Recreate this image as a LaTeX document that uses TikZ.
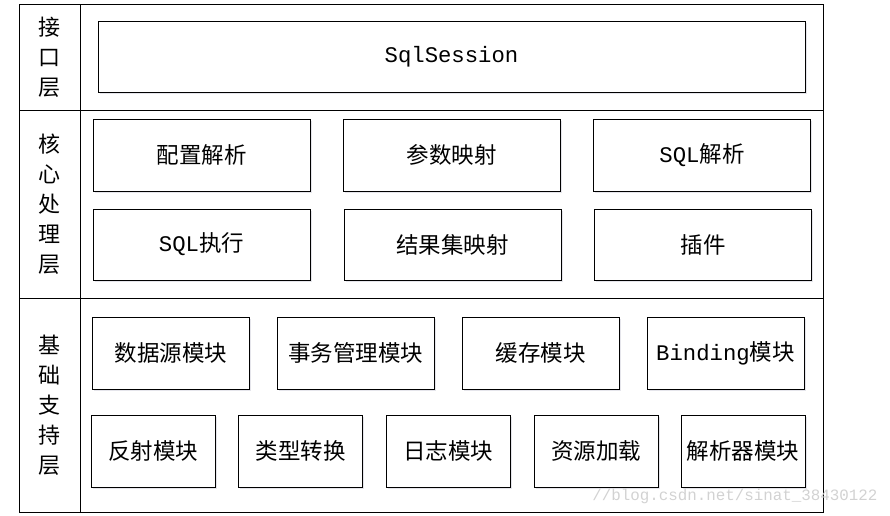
\documentclass[tikz,border=0pt]{standalone}
\usepackage{fontspec}
\setmainfont{Noto Sans CJK SC}
\setmonofont[Scale=0.99]{Liberation Mono}
\usetikzlibrary{shadows}
\tikzset{
    modbox/.style={draw, line width=1pt, fill=white, minimum height=72pt, inner sep=0pt,
        font=\fontsize{22.5}{24}\selectfont,
        drop shadow={shadow xshift=1.5pt, shadow yshift=-1.5pt, fill=blue!15!gray!30, opacity=.6}},
    layer/.style={align=center, inner sep=0pt, font=\fontsize{22}{30}\selectfont},
}
\begin{document}
\begin{tikzpicture}[x=1pt, y=-1pt, line width=1pt]
\useasboundingbox (0,0) rectangle (890,515);
\draw (19,4) rectangle (823,512);
\draw (80,4)--(80,512);
\draw (19,110)--(823,110);
\draw (19,298)--(823,298);

\node[layer] (interface) at (49.5,57) {接\\口\\层};
\node[layer] (core) at (49.5,204) {核\\心\\处\\理\\层};
\node[layer] (base) at (49.5,405) {基\\础\\支\\持\\层};

\node[modbox, minimum width=707pt, minimum height=71pt] (session) at (451.5,56.5) {\texttt{SqlSession}};

\foreach \cx/\name/\txt in {201.5/config/配置解析, 451.5/param/参数映射, 702/sqlparse/{\texttt{SQL}解析}}
{
    \node[modbox, minimum width=217pt] (\name) at (\cx,155) {\txt};
}
\foreach \cx/\name/\txt in {201.5/executor/{\texttt{SQL}执行}, 452.5/result/结果集映射, 703/plugin/插件}
{
    \node[modbox, minimum width=217pt, minimum height=71pt] (\name) at (\cx,244.5) {\txt};
}

\foreach \cx/\name/\txt in {171/datasource/数据源模块, 355.5/transaction/事务管理模块, 540.5/cache/缓存模块, 725.5/binding/{\texttt{Binding}模块}}
{
    \node[modbox, minimum width=157pt] (\name) at (\cx,353) {\txt};
}
\foreach \cx/\name/\txt in {153/reflect/反射模块, 300.5/typeconv/类型转换, 448/logging/日志模块, 596/resource/资源加载, 743/parser/解析器模块}
{
    \node[modbox, minimum width=124pt] (\name) at (\cx,451) {\txt};
}

\node[anchor=base east, inner sep=0pt, text=gray!35, font=\ttfamily\fontsize{16}{16}\selectfont] (mark) at (878,500) {//blog.csdn.net/sinat\_38430122};
\end{tikzpicture}
\end{document}
